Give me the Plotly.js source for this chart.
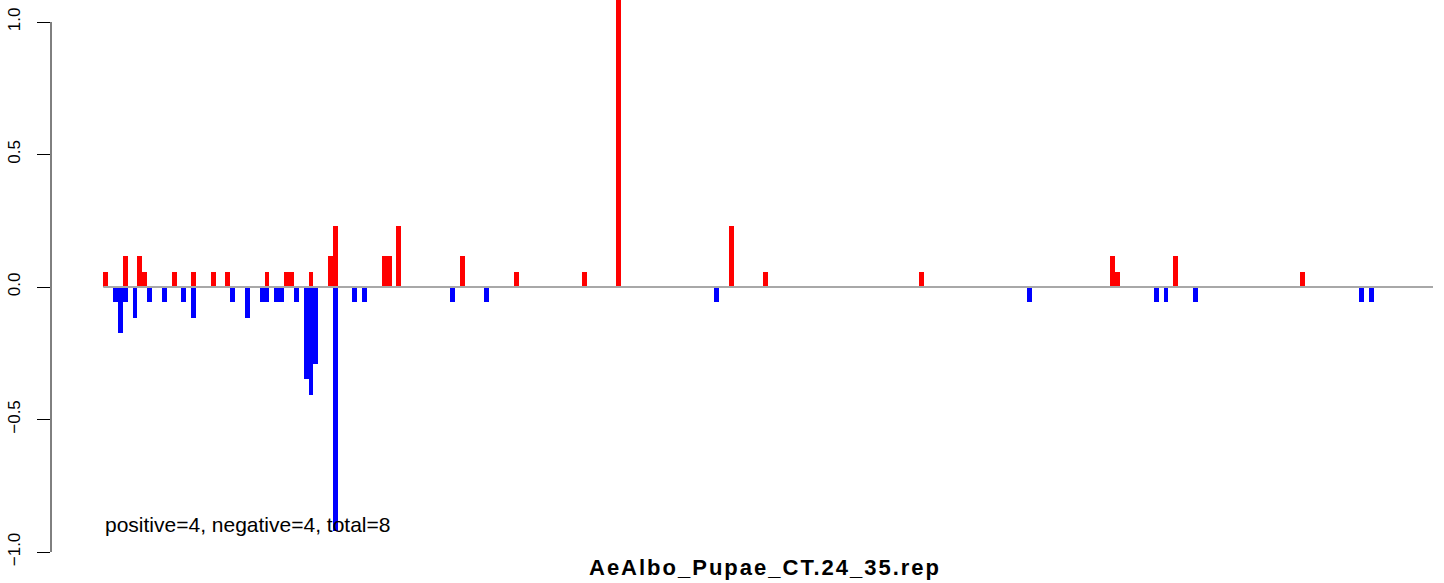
<!DOCTYPE html>
<html>
<head>
<meta charset="utf-8">
<script src="https://cdn.plot.ly/plotly-3.0.1.min.js"></script>
<style>
html,body{margin:0;padding:0;background:#fff;}
#chart{width:1444px;height:583px;}
#chart .annotation[data-index="0"] text{letter-spacing:2.0px;}
</style>
</head>
<body>
<div id="chart"></div>
<script>
// ---- data (slot index along the track, and bar value) ----
const nSlots = 272;
const posSlots = [0,4,7,8,14,18,22,25,33,37,38,42,46,47,57,58,60,73,84,98,105,128,135,167,206,207,219,245];
const posVals  = [0.058,0.116,0.116,0.058,0.058,0.058,0.058,0.058,0.058,0.058,0.058,0.058,0.116,0.232,0.116,0.116,0.232,0.116,0.058,0.058,1.2,0.232,0.058,0.058,0.116,0.058,0.116,0.058];
const negSlots = [2,3,4,6,9,12,16,18,26,29,32,33,35,36,39,41,42,43,47,51,53,71,78,125,189,215,217,223,257,259];
const negVals  = [-0.058,-0.174,-0.058,-0.116,-0.058,-0.058,-0.058,-0.116,-0.058,-0.116,-0.058,-0.058,-0.058,-0.058,-0.058,-0.348,-0.406,-0.29,-0.92,-0.058,-0.058,-0.058,-0.058,-0.058,-0.058,-0.058,-0.058,-0.058,-0.058,-0.058];
const yTicks = [-1, -0.5, 0, 0.5, 1];
const yTickText = ["\u22121.0", "\u22120.5", "0.0", "0.5", "1.0"];
const chartTitle = "AeAlbo_Pupae_CT.24_35.rep";
const statsLabel = "positive=4, negative=4, total=8";

const FONT = "Liberation Sans, Arial, Helvetica, sans-serif";

const traces = [
  {type:'bar', x: posSlots, y: posVals, width: 1, marker:{color:'#FF0000', line:{width:0}}, hoverinfo:'skip'},
  {type:'bar', x: negSlots, y: negVals, width: 1, marker:{color:'#0000FF', line:{width:0}}, hoverinfo:'skip'}
];

const layout = {
  width: 1444, height: 583,
  margin: {l: 51, r: 11, t: 0, b: 31, pad: 0},
  paper_bgcolor: '#ffffff', plot_bgcolor: '#ffffff',
  showlegend: false,
  barmode: 'overlay', bargap: 0,
  font: {family: FONT, color: '#000'},
  xaxis: {range: [-11.2, 271.64], visible: false, fixedrange: true},
  yaxis: {
    range: [-1.0, 1.083], showgrid: false, zeroline: false, showline: false,
    tickmode: 'array', tickvals: yTicks, ticktext: yTickText,
    ticks: 'outside', ticklen: 13, tickwidth: 1, tickcolor: '#000',
    tickangle: -90, tickfont: {size: 17, family: FONT, color: '#000'},
    ticklabelstandoff: 10, fixedrange: true
  },
  shapes: [
    {type:'line', xref:'paper', yref:'y', x0:0, x1:0, y0: yTicks[0], y1: yTicks[yTicks.length-1], line:{color:'#000', width:1}},
    {type:'line', xref:'x', yref:'y', x0:-0.5, x1: nSlots - 0.36, y0:0, y1:0, line:{color:'#a8a8a8', width:2}, layer:'above'}
  ],
  annotations: [
    {text: '<b>' + chartTitle + '</b>', xref:'paper', yref:'paper', x: (765-51)/1382, y: (552-567)/552,
     xanchor:'center', yanchor:'middle', showarrow:false, font:{size:22, family:FONT, color:'#000'}},
    {text: statsLabel, xref:'paper', yref:'paper', x: (102.6-51)/1382, y: (552-524.5)/552,
     xanchor:'left', yanchor:'middle', showarrow:false, font:{size:21, family:FONT, color:'#000'}}
  ]
};

Plotly.newPlot('chart', traces, layout, {staticPlot: true, displayModeBar: false});
</script>
</body>
</html>
